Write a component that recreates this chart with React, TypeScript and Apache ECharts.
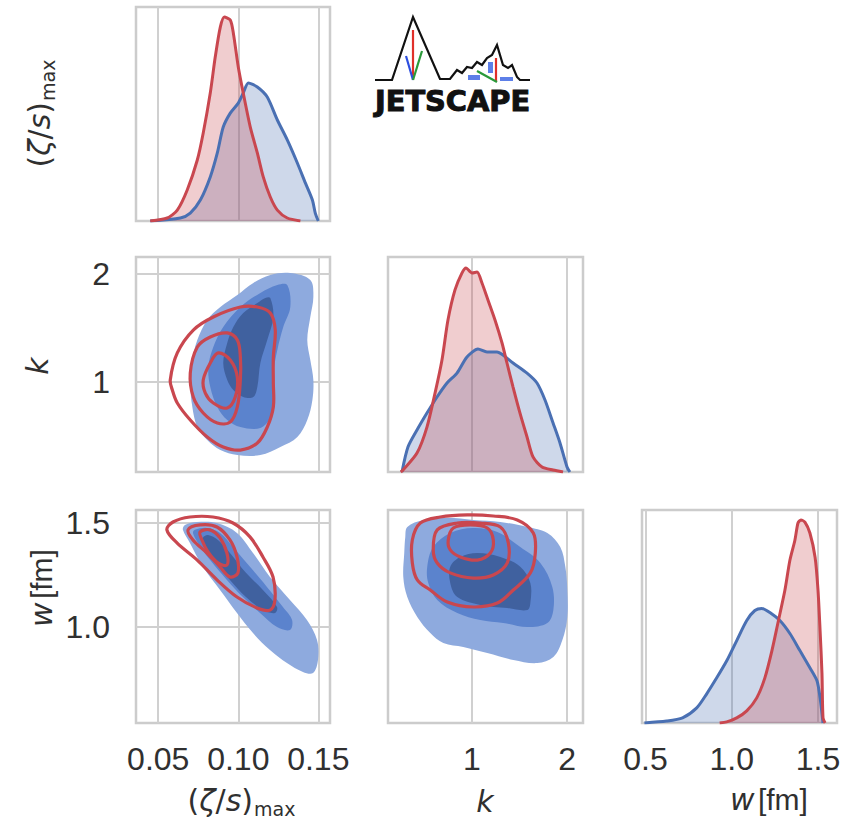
import React, { useEffect, useRef } from "react";
import * as echarts from "echarts";

// ---------- axis ranges & ticks ----------
const zetaRange = [0.0361, 0.1573];
const kRowRange = [0.167, 2.157];
const kColRange = [0.116, 2.168];
const wRowRange = [0.534, 1.564];
const wColRange = [0.48, 1.61];
const densRange = [0, 1];

const zetaTicks = [0.05, 0.1, 0.15];
const kTicks = [1, 2];
const wRowTicks = [1.0, 1.5];
const wColTicks = [0.5, 1.0, 1.5];

// ---------- marginal densities (relative) ----------
const zetaBlueKde = [[0.045,0],[0.0638,0.014],[0.07,0.037],[0.0763,0.098],[0.0825,0.206],[0.0869,0.318],[0.0906,0.439],[0.095,0.504],[0.1,0.551],[0.1031,0.598],[0.1063,0.645],[0.1119,0.626],[0.1181,0.579],[0.1244,0.472],[0.1306,0.379],[0.1369,0.271],[0.1419,0.178],[0.1463,0.098],[0.1481,0.037],[0.15,0]];
const zetaRedKde = [[0.045,0],[0.0556,0.014],[0.0619,0.051],[0.0681,0.145],[0.0744,0.285],[0.0781,0.411],[0.0825,0.598],[0.0856,0.766],[0.0888,0.907],[0.0913,0.953],[0.095,0.939],[0.0969,0.879],[0.1,0.72],[0.1031,0.598],[0.1075,0.439],[0.1119,0.318],[0.1156,0.206],[0.12,0.112],[0.1244,0.051],[0.1306,0.014],[0.1388,0]];
const kBlueKde = [[0.263,0],[0.326,0.116],[0.421,0.195],[0.526,0.274],[0.632,0.349],[0.737,0.414],[0.842,0.46],[0.947,0.535],[1.063,0.572],[1.158,0.558],[1.263,0.558],[1.326,0.544],[1.432,0.507],[1.579,0.46],[1.684,0.414],[1.768,0.335],[1.853,0.228],[1.926,0.135],[2.0,0.023],[2.03,0]];
const kRedKde = [[0.25,0],[0.274,0.009],[0.421,0.088],[0.526,0.209],[0.611,0.367],[0.684,0.521],[0.747,0.707],[0.821,0.847],[0.895,0.926],[0.937,0.949],[1.0,0.926],[1.053,0.93],[1.105,0.879],[1.168,0.8],[1.242,0.707],[1.316,0.6],[1.368,0.507],[1.432,0.395],[1.505,0.274],[1.579,0.163],[1.642,0.07],[1.737,0.023],[1.853,0.009],[1.958,0]];
const wBlueKde = [[0.494,0],[0.622,0.009],[0.715,0.024],[0.797,0.071],[0.855,0.137],[0.913,0.212],[0.971,0.292],[1.029,0.387],[1.087,0.481],[1.134,0.528],[1.174,0.538],[1.221,0.519],[1.279,0.481],[1.337,0.42],[1.395,0.34],[1.453,0.259],[1.494,0.198],[1.512,0.118],[1.529,0]];
const wRedKde = [[0.93,0],[0.971,0.005],[1.029,0.024],[1.087,0.057],[1.145,0.118],[1.192,0.212],[1.233,0.34],[1.267,0.467],[1.308,0.623],[1.337,0.764],[1.366,0.858],[1.384,0.939],[1.401,0.953],[1.424,0.943],[1.453,0.892],[1.483,0.778],[1.5,0.623],[1.512,0.434],[1.523,0.231],[1.529,0.024],[1.541,0]];

// ---------- 2D credible contours: (zeta/s)max vs k ----------
const zkBlueOuter = [[0.1325,2.009],[0.145,1.944],[0.1469,1.787],[0.145,1.602],[0.1431,1.389],[0.145,1.204],[0.1469,1.019],[0.1463,0.833],[0.1431,0.648],[0.1369,0.491],[0.1263,0.398],[0.1138,0.324],[0.0994,0.324],[0.0888,0.37],[0.0806,0.463],[0.0744,0.583],[0.0713,0.769],[0.07,0.991],[0.0713,1.204],[0.0744,1.389],[0.0806,1.574],[0.0888,1.694],[0.0994,1.806],[0.1094,1.917],[0.12,1.991]];
const zkBlueMid = [[0.1306,1.898],[0.1325,1.694],[0.1281,1.509],[0.1244,1.296],[0.1219,1.083],[0.1219,0.898],[0.12,0.676],[0.1138,0.574],[0.1013,0.583],[0.0931,0.648],[0.0869,0.769],[0.0825,0.954],[0.0813,1.139],[0.0844,1.324],[0.0906,1.509],[0.1013,1.694],[0.1138,1.824],[0.1244,1.898]];
const zkBlueInner = [[0.12,1.778],[0.1219,1.602],[0.1181,1.389],[0.1138,1.176],[0.1119,0.954],[0.1094,0.861],[0.1031,0.861],[0.0969,0.926],[0.0931,1.019],[0.0906,1.176],[0.0931,1.361],[0.0969,1.509],[0.1031,1.639],[0.1119,1.731],[0.1169,1.778]];
const zkRedOuter = [[0.0575,1.019],[0.0619,1.269],[0.0719,1.481],[0.0844,1.602],[0.1013,1.694],[0.1119,1.694],[0.12,1.639],[0.1231,1.481],[0.1219,1.231],[0.1219,0.991],[0.1219,0.769],[0.1181,0.583],[0.1119,0.435],[0.1013,0.37],[0.0906,0.398],[0.0806,0.491],[0.07,0.648],[0.0619,0.806],[0.0588,0.926]];
const zkRedMid = [[0.07,1.083],[0.0744,1.324],[0.0825,1.417],[0.0931,1.454],[0.0994,1.389],[0.1013,1.231],[0.1013,1.019],[0.0994,0.769],[0.095,0.63],[0.0869,0.62],[0.0781,0.713],[0.0719,0.861]];
const zkRedInner = [[0.0781,1.019],[0.0825,1.176],[0.0875,1.269],[0.095,1.204],[0.0994,1.046],[0.0981,0.861],[0.0931,0.759],[0.0844,0.806],[0.0794,0.898]];

// ---------- (zeta/s)max vs w ----------
const zwBlueOuter = [[0.0667,1.492],[0.0742,1.506],[0.0867,1.501],[0.0992,1.453],[0.1092,1.356],[0.1198,1.24],[0.1323,1.129],[0.1429,1.032],[0.1492,0.935],[0.1498,0.839],[0.1467,0.776],[0.1404,0.781],[0.1304,0.824],[0.1198,0.887],[0.1092,0.969],[0.0992,1.066],[0.0886,1.177],[0.0779,1.289],[0.0698,1.405],[0.0654,1.468]];
const zwBlueMid = [[0.0729,1.468],[0.0804,1.477],[0.0886,1.453],[0.0967,1.385],[0.1073,1.289],[0.1179,1.192],[0.1279,1.095],[0.1336,1.032],[0.1323,0.984],[0.1242,0.998],[0.1136,1.066],[0.1029,1.143],[0.0929,1.226],[0.0823,1.323],[0.0748,1.405],[0.0717,1.453]];
const zwBlueInner = [[0.0811,1.443],[0.0873,1.419],[0.0948,1.356],[0.1048,1.26],[0.1154,1.177],[0.1242,1.095],[0.1229,1.066],[0.1154,1.08],[0.1048,1.143],[0.0948,1.226],[0.0861,1.308],[0.0798,1.381],[0.0779,1.429]];
const zwRedOuter = [[0.0554,1.468],[0.0592,1.506],[0.0698,1.53],[0.0842,1.53],[0.0967,1.501],[0.1073,1.434],[0.1154,1.337],[0.1217,1.24],[0.1229,1.129],[0.1198,1.08],[0.1117,1.09],[0.0992,1.143],[0.0867,1.226],[0.0742,1.323],[0.0617,1.405]];
const zwRedMid = [[0.0686,1.468],[0.0761,1.492],[0.0867,1.482],[0.0948,1.419],[0.0992,1.337],[0.0998,1.26],[0.0948,1.24],[0.0886,1.289],[0.0804,1.356],[0.0717,1.419]];
const zwRedInner = [[0.0761,1.458],[0.0823,1.468],[0.0886,1.429],[0.0929,1.356],[0.0929,1.298],[0.0873,1.308],[0.0811,1.361],[0.0773,1.419]];

// ---------- k vs w ----------
const kwBlueOuter = [[0.319,1.482],[0.487,1.516],[0.74,1.526],[1.014,1.516],[1.298,1.506],[1.582,1.482],[1.793,1.453],[1.929,1.385],[1.982,1.289],[2.003,1.177],[2.003,1.047],[1.951,0.935],[1.856,0.853],[1.687,0.824],[1.435,0.839],[1.161,0.873],[0.908,0.902],[0.698,0.921],[0.561,0.969],[0.424,1.047],[0.319,1.143],[0.277,1.24],[0.287,1.356],[0.298,1.434]];
const kwBlueMid = [[0.529,1.29],[0.592,1.385],[0.771,1.453],[1.014,1.477],[1.266,1.458],[1.508,1.385],[1.719,1.308],[1.845,1.192],[1.856,1.081],[1.793,1.018],[1.582,0.998],[1.329,1.018],[1.087,1.032],[0.845,1.066],[0.634,1.129],[0.54,1.211]];
const kwBlueInner = [[0.771,1.29],[0.877,1.337],[1.056,1.356],[1.298,1.337],[1.508,1.29],[1.614,1.211],[1.614,1.114],[1.582,1.08],[1.371,1.09],[1.087,1.105],[0.845,1.143],[0.771,1.211]];
const kwRedOuter = [[0.372,1.419],[0.456,1.501],[0.666,1.53],[0.951,1.54],[1.224,1.535],[1.477,1.516],[1.645,1.453],[1.666,1.356],[1.614,1.26],[1.435,1.177],[1.266,1.114],[1.014,1.095],[0.74,1.119],[0.561,1.177],[0.424,1.226],[0.372,1.308]];
const kwRedMid = [[0.592,1.371],[0.634,1.468],[0.845,1.501],[1.087,1.501],[1.298,1.482],[1.382,1.405],[1.371,1.308],[1.224,1.25],[1.014,1.235],[0.771,1.26],[0.634,1.308]];
const kwRedInner = [[0.75,1.419],[0.803,1.477],[0.982,1.492],[1.161,1.477],[1.224,1.419],[1.193,1.356],[1.056,1.322],[0.877,1.337],[0.771,1.371]];

// ---------- styling ----------
const BLUE = "#4a70b3";
const RED = "#c9474f";
const BLUE_FILLS = ["#8eaade", "#5b83cd", "#40619f"];
const GRID_COLOR = "#d0d0d0";
const TEXT = "#303030";

const GRIDS = [
  { left: 136, top: 7, width: 194, height: 214 },
  { left: 136, top: 257, width: 194, height: 215 },
  { left: 388, top: 257, width: 195, height: 215 },
  { left: 136, top: 510, width: 194, height: 213 },
  { left: 388, top: 510, width: 195, height: 213 },
  { left: 642, top: 510, width: 195, height: 213 },
];

function axis(gridIndex: number, range: number[], ticks: number[] | null, showLabel: boolean, decimals: number, margin: number) {
  return {
    type: "value",
    gridIndex,
    min: range[0],
    max: range[1],
    axisLine: { show: false },
    axisTick: { show: false, customValues: ticks || [] },
    axisLabel: {
      show: showLabel,
      customValues: ticks || [],
      formatter: (v: number) => v.toFixed(decimals),
      fontFamily: "Liberation Sans",
      fontSize: 32,
      color: TEXT,
      margin,
    },
    splitLine: ticks ? { show: true, lineStyle: { color: GRID_COLOR, width: 2 } } : { show: false },
  };
}

function kde(gi: number, data: number[][], color: string) {
  return {
    type: "line",
    xAxisIndex: gi,
    yAxisIndex: gi,
    data,
    smooth: 0.25,
    symbol: "none",
    showSymbol: false,
    silent: true,
    lineStyle: { color, width: 3 },
    areaStyle: { color, opacity: 0.27 },
  };
}

function contours(gi: number, polys: number[][][], mode: "fill" | "line") {
  return {
    type: "custom",
    coordinateSystem: "cartesian2d",
    xAxisIndex: gi,
    yAxisIndex: gi,
    silent: true,
    data: polys.map((p) => p[0]),
    renderItem: (params: any, api: any) => {
      const poly = polys[params.dataIndex];
      const pts = poly.map((p) => api.coord(p));
      return {
        type: "polygon",
        shape: { points: pts, smooth: 0.35 },
        style:
          mode === "fill"
            ? { fill: BLUE_FILLS[params.dataIndex], stroke: "none" }
            : { fill: "none", stroke: RED, lineWidth: 3.2 },
      };
    },
  };
}

const mathRich = {
  n: { fontFamily: "DejaVu Sans", fontSize: 30, fill: TEXT },
  i: { fontFamily: "DejaVu Sans", fontStyle: "italic", fontSize: 30, fill: TEXT },
  r: { fontFamily: "Liberation Sans", fontSize: 30, fill: TEXT },
};

function zetaLabel(x: number, y: number, rotation: number) {
  return {
    type: "group",
    x,
    y,
    rotation,
    silent: true,
    children: [
      { type: "text", style: { text: "{n|(}{i|ζ}{n|/}{i|s}{n|)}", rich: mathRich, align: "right", verticalAlign: "bottom", x: 0, y: 0 } },
      { type: "text", style: { text: "max", fontFamily: "DejaVu Sans", fontSize: 19, fill: TEXT, align: "left", verticalAlign: "bottom", x: 1, y: 3 } },
    ],
  };
}

function buildOption() {
  const graphic: any[] = [
    zetaLabel(253, 815, 0),
    zetaLabel(54, 102, Math.PI / 2),
    { type: "text", x: 485, y: 801, silent: true, style: { text: "k", fontFamily: "DejaVu Sans", fontStyle: "italic", fontSize: 30, fill: TEXT, align: "center", verticalAlign: "middle" } },
    { type: "text", x: 37, y: 366, rotation: Math.PI / 2, silent: true, style: { text: "k", fontFamily: "DejaVu Sans", fontStyle: "italic", fontSize: 30, fill: TEXT, align: "center", verticalAlign: "middle" } },
    { type: "text", x: 769, y: 799, silent: true, style: { text: "{i|w} {r|[fm]}", rich: mathRich, align: "center", verticalAlign: "middle" } },
    { type: "text", x: 41, y: 588, rotation: Math.PI / 2, silent: true, style: { text: "{i|w} {r|[fm]}", rich: mathRich, align: "center", verticalAlign: "middle" } },
    // JETSCAPE logo
    {
      type: "polyline",
      silent: true,
      shape: {
        points: [[375,80],[392,80],[413,17],[440,79],[450,79],[457,70],[462,73],[467,67],[472,68],[477,62],[482,65],[487,58],[492,55],[497,45],[503,65],[508,68],[512,65],[517,77],[520,80],[530,80]],
      },
      style: { stroke: "#111", lineWidth: 2.2, fill: "none" },
    },
    { type: "line", silent: true, shape: { x1: 413, y1: 30, x2: 413, y2: 80 }, style: { stroke: "#e0302a", lineWidth: 2.2 } },
    { type: "line", silent: true, shape: { x1: 406, y1: 56, x2: 413, y2: 80 }, style: { stroke: "#2c4ee0", lineWidth: 2.2 } },
    { type: "line", silent: true, shape: { x1: 422, y1: 51, x2: 413, y2: 80 }, style: { stroke: "#2a9a3a", lineWidth: 2.2 } },
    { type: "line", silent: true, shape: { x1: 496, y1: 58, x2: 496, y2: 82 }, style: { stroke: "#e0302a", lineWidth: 2.2 } },
    { type: "line", silent: true, shape: { x1: 477, y1: 71, x2: 497, y2: 82 }, style: { stroke: "#2a9a3a", lineWidth: 2.2 } },
    { type: "rect", silent: true, shape: { x: 468, y: 75, width: 12, height: 5 }, style: { fill: "#5d7fe8" } },
    { type: "rect", silent: true, shape: { x: 488, y: 62, width: 5, height: 11 }, style: { fill: "#5d7fe8" } },
    { type: "rect", silent: true, shape: { x: 500, y: 77, width: 13, height: 4 }, style: { fill: "#5d7fe8" } },
    {
      type: "text",
      x: 375,
      y: 102,
      scaleX: 1.03,
      silent: true,
      style: { text: "JETSCAPE", fontFamily: "DejaVu Sans", fontWeight: "bold", fontSize: 28, fill: "#111", stroke: "#111", lineWidth: 1, align: "left", verticalAlign: "middle" },
    },
  ];

  return {
    animation: false,
    backgroundColor: "#ffffff",
    grid: GRIDS.map((g) => ({ ...g, show: true, borderColor: "#cccccc", borderWidth: 2.5, backgroundColor: "transparent", containLabel: false })),
    xAxis: [
      axis(0, zetaRange, zetaTicks, false, 2, 20),
      axis(1, zetaRange, zetaTicks, false, 2, 20),
      axis(2, kColRange, kTicks, false, 0, 20),
      axis(3, zetaRange, zetaTicks, true, 2, 20),
      axis(4, kColRange, kTicks, true, 0, 20),
      axis(5, wColRange, wColTicks, true, 1, 20),
    ],
    yAxis: [
      axis(0, densRange, null, false, 0, 26),
      axis(1, kRowRange, kTicks, true, 0, 26),
      axis(2, densRange, null, false, 0, 26),
      axis(3, wRowRange, wRowTicks, true, 1, 26),
      axis(4, wRowRange, null, false, 1, 26),
      axis(5, densRange, null, false, 0, 26),
    ],
    series: [
      kde(0, zetaBlueKde, BLUE),
      kde(0, zetaRedKde, RED),
      kde(2, kBlueKde, BLUE),
      kde(2, kRedKde, RED),
      kde(5, wBlueKde, BLUE),
      kde(5, wRedKde, RED),
      contours(1, [zkBlueOuter, zkBlueMid, zkBlueInner], "fill"),
      contours(1, [zkRedOuter, zkRedMid, zkRedInner], "line"),
      contours(3, [zwBlueOuter, zwBlueMid, zwBlueInner], "fill"),
      contours(3, [zwRedOuter, zwRedMid, zwRedInner], "line"),
      contours(4, [kwBlueOuter, kwBlueMid, kwBlueInner], "fill"),
      contours(4, [kwRedOuter, kwRedMid, kwRedInner], "line"),
    ],
    graphic,
  };
}

export default function App() {
  const ref = useRef<HTMLDivElement>(null);
  useEffect(() => {
    if (!ref.current) return;
    const chart = echarts.init(ref.current, null, { renderer: "svg" });
    chart.setOption(buildOption() as any);
    return () => chart.dispose();
  }, []);
  return (
    <div
      ref={ref}
      style={{ position: "fixed", left: 0, top: 0, width: 856, height: 822, background: "#ffffff" }}
    />
  );
}
